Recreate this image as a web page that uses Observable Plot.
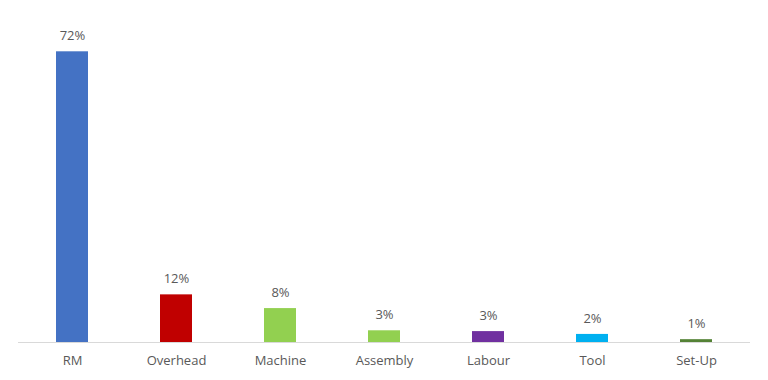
<!DOCTYPE html>
<html>
<head>
<meta charset="utf-8">
<script src="https://cdn.jsdelivr.net/npm/d3@7"></script>
<script src="https://cdn.jsdelivr.net/npm/@observablehq/plot@0.6"></script>
<style>
  html, body { margin: 0; padding: 0; background: #ffffff; }
  #chart { width: 768px; height: 380px; }
</style>
</head>
<body>
<div id="chart"></div>
<script>
const categories = ["RM", "Overhead", "Machine", "Assembly", "Labour", "Tool", "Set-Up"];
const values = [72, 11.8, 8.4, 2.9, 2.7, 2.0, 0.7];
const labels = ["72%", "12%", "8%", "3%", "3%", "2%", "1%"];
const colors = ["#4472C4", "#C00000", "#92D050", "#92D050", "#7030A0", "#00B0F0", "#548235"];

const data = categories.map((c, i) => ({category: c, value: values[i], label: labels[i], color: colors[i]}));

const chart = Plot.plot({
  width: 768,
  height: 380,
  marginLeft: 18,
  marginRight: 18,
  marginTop: 19,
  marginBottom: 38,
  style: {fontFamily: "'Open Sans', sans-serif", fontSize: "13px", color: "#595959", background: "#ffffff"},
  x: {domain: categories, paddingInner: 0.69, paddingOuter: 0.345, label: null, tickSize: 0, tickPadding: 13},
  y: {domain: [0, 80], axis: null},
  marks: [
    Plot.barY(data, {x: "category", y: "value", fill: "color"}),
    Plot.ruleY([0], {stroke: "#D9D9D9", strokeWidth: 1}),
    Plot.text(data, {x: "category", y: "value", text: "label", dy: -16, fill: "#595959", fontSize: 13})
  ]
});
document.getElementById("chart").appendChild(chart);
</script>
</body>
</html>
